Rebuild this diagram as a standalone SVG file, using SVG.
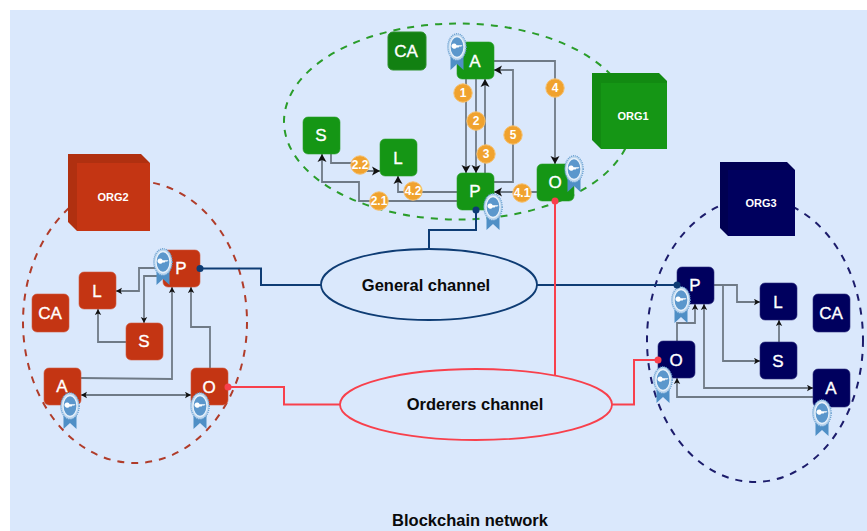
<svg xmlns="http://www.w3.org/2000/svg" xmlns:xlink="http://www.w3.org/1999/xlink" width="867" height="531" viewBox="0 0 867 531">
<style>
text{font-family:"Liberation Sans",Arial,sans-serif;text-anchor:middle}
.n{font-size:17px;fill:#fff;stroke:#fff;stroke-width:.35}
.org{font-size:11px;font-weight:700;fill:#fff}
.ch{font-size:16.500px;font-weight:700;fill:#0a0a0a}
.num{font-size:12px;font-weight:700;fill:#fff}
.c{fill:none;stroke:#6f7a86;stroke-width:1.800;marker-end:url(#a)}
.c2{fill:none;stroke:#6f7a86;stroke-width:1.800;marker-end:url(#s)}
.g{fill:#159615;stroke:#2aa02a;stroke-width:.6}
.r{fill:#c43513;stroke:#d0583c;stroke-width:.6}
.b{fill:#00005e;stroke:#2a2a78;stroke-width:.6}
.o{fill:#f0a22e;stroke:#f6c06e;stroke-width:1}
.blue{fill:none;stroke:#0e3c74;stroke-width:2}
.red{fill:none;stroke:#f8404c;stroke-width:2}
</style>
<defs>
<marker id="a" markerUnits="userSpaceOnUse" markerWidth="10" markerHeight="11" refX="8" refY="5" orient="auto"><path d="M0,.5L8,5L0,9.500L2,5z" fill="#111"/></marker>
<marker id="s" markerUnits="userSpaceOnUse" markerWidth="8" markerHeight="8" refX="6" refY="3.500" orient="auto-start-reverse"><path d="M0,.3L6,3.500L0,6.700L1.400,3.500z" fill="#111"/></marker>
<g id="badge">
<path d="M-6.500,4V23L0,17L6.500,23V4z" fill="#4f8fc6"/>
<ellipse rx="9.200" ry="13.300" fill="#bcd6ee" stroke="#5c97cb" stroke-width="1.200" stroke-dasharray="1 1"/>
<ellipse rx="7" ry="10.500" fill="#5b97cc" stroke="#e6f0fa" stroke-width="1.300"/>
<path d="M-5,-2.500a2.600,2.600 0 0 1 4.600,.7H5.500L4,-.3L2.800,-.8L1.600,.4H-.4a2.600,2.600 0 0 1 -4.600,-2.900z" fill="#fff"/>
</g>
</defs>
<rect x="10" y="10" width="857" height="521" fill="#dae8fc"/>
<g id="scopes" fill="none" stroke-width="2" stroke-dasharray="7 7">
<ellipse cx="458" cy="121.500" rx="174" ry="98" stroke="#2a9d2a"/>
<ellipse cx="135" cy="322" rx="112" ry="141" stroke="#b03c2a"/>
<ellipse cx="755" cy="340" rx="108" ry="142" stroke="#1c1c6b"/>
</g>
<g id="connectors">
<path class="c" d="M466,79V173"/>
<path class="c" d="M476,79V173"/>
<path class="c" d="M485,173V79"/>
<path class="c" d="M494,182H513V70H494"/>
<path class="c" d="M494,61H555V164"/>
<path class="c" d="M537,192H494"/>
<path class="c" d="M457,192H398V176"/>
<path class="c" d="M457,201H359V182H322V154"/>
<path class="c" d="M331,154V163H360V171H380"/>
<path class="c2" d="M163,268H139V291H116"/>
<path class="c2" d="M163,276H144V323"/>
<path class="c2" d="M126,342H98V309"/>
<path class="c2" d="M81,378L172,379V287"/>
<path class="c2" d="M210,368V327H191V287"/>
<path class="c2" style="marker-start:url(#s)" d="M81,395H191"/>
<path class="c2" d="M714,285H737V302H760"/>
<path class="c2" d="M723,285V361H760"/>
<path class="c2" d="M779,342V320"/>
<path class="c2" style="marker-start:url(#s)" d="M704,304V388H813"/>
<path class="c2" d="M813,397H677V378"/>
<path class="c2" d="M677,341V323H695V304"/>
<path class="blue" d="M476,210V230H429V249"/>
<path class="blue" d="M200,268.500H261V285H321"/>
<path class="blue" d="M537,285H677"/>
<path class="red" d="M555,201V375"/>
<path class="red" d="M228,387H284V404.500H340"/>
<path class="red" d="M612,404.500H634V360H658"/>
</g>
<g id="org1-cube"><path d="M592,73H659L667,81V149H601L592,140z" fill="#128a12"/><rect x="601" y="83" width="66" height="66" fill="#159615"/><text class="org" x="633" y="120">ORG1</text></g>
<g id="org2-cube"><path d="M68,154H141L150,163V231H77L68,222z" fill="#b03010"/><rect x="77" y="163" width="73" height="68" fill="#c43513"/><text class="org" x="113" y="201">ORG2</text></g>
<g id="org3-cube"><path d="M720,162H787L795,170V236H728L720,228z" fill="#000052"/><rect x="728" y="170" width="67" height="66" fill="#00005e"/><text class="org" x="761" y="207">ORG3</text></g>
<g id="org1-ca"><rect x="388" y="32" width="38" height="38" rx="5" fill="#128012" stroke="#2a8f2a"/><text class="n" x="406" y="57">CA</text></g>
<g id="org1-a"><rect class="g" x="457" y="42" width="37" height="37" rx="5"/><text class="n" x="475" y="67">A</text></g>
<g id="org1-s"><rect class="g" x="303" y="117" width="37" height="37" rx="5"/><text class="n" x="321" y="141">S</text></g>
<g id="org1-l"><rect class="g" x="380" y="139" width="37" height="37" rx="5"/><text class="n" x="398" y="164">L</text></g>
<g id="org1-p"><rect class="g" x="457" y="173" width="37" height="37" rx="5"/><text class="n" x="475" y="197">P</text></g>
<g id="org1-o"><rect class="g" x="537" y="164" width="37" height="37" rx="5"/><text class="n" x="555" y="188">O</text></g>
<g id="org2-ca"><rect class="r" x="32" y="294" width="37" height="38" rx="5"/><text class="n" x="50" y="319">CA</text></g>
<g id="org2-p"><rect class="r" x="163" y="250" width="37" height="37" rx="5"/><text class="n" x="181" y="274">P</text></g>
<g id="org2-l"><rect class="r" x="79" y="272" width="37" height="37" rx="5"/><text class="n" x="97" y="297">L</text></g>
<g id="org2-s"><rect class="r" x="126" y="323" width="37" height="37" rx="5"/><text class="n" x="144" y="347">S</text></g>
<g id="org2-a"><rect class="r" x="44" y="368" width="37" height="37" rx="5"/><text class="n" x="62" y="392">A</text></g>
<g id="org2-o"><rect class="r" x="191" y="368" width="37" height="37" rx="5"/><text class="n" x="209" y="393">O</text></g>
<g id="org3-p"><rect class="b" x="677" y="267" width="37" height="37" rx="5"/><text class="n" x="695" y="291">P</text></g>
<g id="org3-l"><rect class="b" x="760" y="283" width="37" height="37" rx="5"/><text class="n" x="778" y="308">L</text></g>
<g id="org3-ca"><rect class="b" x="813" y="294" width="37" height="38" rx="5"/><text class="n" x="831" y="319">CA</text></g>
<g id="org3-s"><rect class="b" x="760" y="342" width="37" height="37" rx="5"/><text class="n" x="778" y="367">S</text></g>
<g id="org3-o"><rect class="b" x="658" y="341" width="37" height="37" rx="5"/><text class="n" x="676" y="366">O</text></g>
<g id="org3-a"><rect class="b" x="813" y="369" width="37" height="38" rx="5"/><text class="n" x="831" y="394">A</text></g>
<g id="badges">
<use xlink:href="#badge" href="#badge" x="457" y="47"/>
<use xlink:href="#badge" href="#badge" x="493" y="207"/>
<use xlink:href="#badge" href="#badge" x="574" y="169"/>
<use xlink:href="#badge" href="#badge" x="163" y="262"/>
<use xlink:href="#badge" href="#badge" x="70" y="406"/>
<use xlink:href="#badge" href="#badge" x="200" y="406"/>
<use xlink:href="#badge" href="#badge" x="681" y="300"/>
<use xlink:href="#badge" href="#badge" x="663" y="380"/>
<use xlink:href="#badge" href="#badge" x="822" y="413"/>
</g>
<g id="steps">
<circle class="o" cx="463" cy="93" r="9.200"/><text class="num" x="463" y="97">1</text>
<circle class="o" cx="476" cy="121" r="9.200"/><text class="num" x="476" y="125">2</text>
<circle class="o" cx="486" cy="154" r="9.200"/><text class="num" x="486" y="158">3</text>
<circle class="o" cx="555" cy="88" r="9.200"/><text class="num" x="555" y="92">4</text>
<circle class="o" cx="513" cy="135" r="9.200"/><text class="num" x="513" y="139">5</text>
<circle class="o" cx="522" cy="193" r="9.200"/><text class="num" x="522" y="197">4.1</text>
<circle class="o" cx="413" cy="191" r="9.200"/><text class="num" x="413" y="195">4.2</text>
<circle class="o" cx="379" cy="201" r="9.200"/><text class="num" x="379" y="205">2.1</text>
<circle class="o" cx="360" cy="165" r="9.200"/><text class="num" x="360" y="169">2.2</text>
</g>
<g id="ports">
<circle cx="476" cy="210" r="3.500" fill="#0e3c74"/>
<circle cx="200" cy="268.500" r="3.500" fill="#0e3c74"/>
<circle cx="677" cy="285" r="3.500" fill="#0e3c74"/>
<circle cx="555" cy="201" r="3.500" fill="#f8404c"/>
<circle cx="228" cy="387" r="3.500" fill="#f8404c"/>
<circle cx="658" cy="360" r="3.500" fill="#f8404c"/>
</g>
<g id="general-channel"><ellipse cx="429" cy="284.500" rx="108" ry="35.500" fill="#dae8fc" stroke="#0e3c74" stroke-width="1.800"/><text class="ch" x="426" y="291">General channel</text></g>
<g id="orderers-channel"><ellipse cx="476" cy="404.500" rx="136" ry="35.500" fill="#dae8fc" stroke="#f8404c" stroke-width="1.800"/><text class="ch" x="475" y="410">Orderers channel</text></g>
<text class="ch" x="470" y="526">Blockchain network</text>
</svg>
